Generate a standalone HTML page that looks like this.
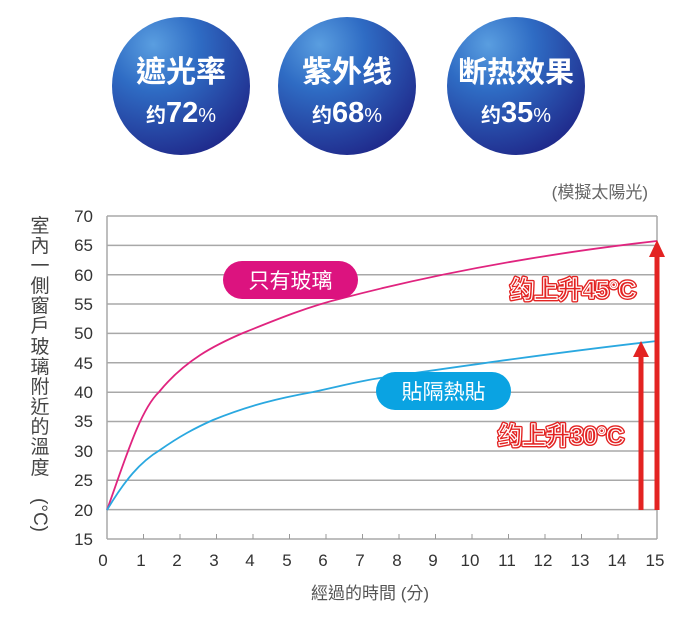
<!DOCTYPE html>
<html><head><meta charset="utf-8"><style>
body{margin:0;background:#fff;width:690px;height:639px;overflow:hidden}
svg text{font-family:"Liberation Sans","Noto Sans CJK TC",sans-serif}
</style></head><body>
<svg width="690" height="639" viewBox="0 0 690 639" xmlns="http://www.w3.org/2000/svg">
<defs>
<radialGradient id="cg" cx="0.3" cy="0.2" r="0.95">
<stop offset="0" stop-color="#5a9ee0"/><stop offset="0.35" stop-color="#2f6cc4"/><stop offset="1" stop-color="#1d1f82"/>
</radialGradient>
</defs>
<g text-anchor="middle" fill="#fff" font-weight="bold">
<circle cx="181" cy="86" r="69" fill="url(#cg)"/>
<circle cx="347" cy="86" r="69" fill="url(#cg)"/>
<circle cx="516" cy="86" r="69" fill="url(#cg)"/>
<text x="181" y="82" font-size="30">遮光率</text>
<text x="347" y="82" font-size="30">紫外线</text>
<text x="516" y="82" font-size="29">断热效果</text>
<text x="181" y="122"><tspan font-size="20">约</tspan><tspan font-size="29">72</tspan><tspan font-size="20" font-weight="normal">%</tspan></text>
<text x="347" y="122"><tspan font-size="20">约</tspan><tspan font-size="29">68</tspan><tspan font-size="20" font-weight="normal">%</tspan></text>
<text x="516" y="122"><tspan font-size="20">约</tspan><tspan font-size="29">35</tspan><tspan font-size="20" font-weight="normal">%</tspan></text>
</g>
<text x="648" y="198" font-size="17" fill="#666" text-anchor="end">(模擬太陽光)</text>
<g stroke="#a8a8a8" stroke-width="1.5">
<line x1="107" y1="216" x2="657" y2="216"/><line x1="107" y1="245.4" x2="657" y2="245.4"/>
<line x1="107" y1="274.7" x2="657" y2="274.7"/><line x1="107" y1="304" x2="657" y2="304"/>
<line x1="107" y1="333.4" x2="657" y2="333.4"/><line x1="107" y1="362.8" x2="657" y2="362.8"/>
<line x1="107" y1="392.2" x2="657" y2="392.2"/><line x1="107" y1="421.5" x2="657" y2="421.5"/>
<line x1="107" y1="451" x2="657" y2="451"/><line x1="107" y1="480.3" x2="657" y2="480.3"/>
<line x1="107" y1="509.6" x2="657" y2="509.6"/><line x1="107" y1="539" x2="657" y2="539"/>
<line x1="107" y1="216" x2="107" y2="539"/><line x1="657" y1="216" x2="657" y2="539"/>
</g>
<g stroke="#999" stroke-width="1">
<line x1="143.5" y1="539" x2="143.5" y2="534"/><line x1="180" y1="539" x2="180" y2="534"/><line x1="216.5" y1="539" x2="216.5" y2="534"/><line x1="253" y1="539" x2="253" y2="534"/><line x1="289.5" y1="539" x2="289.5" y2="534"/><line x1="326" y1="539" x2="326" y2="534"/><line x1="362.5" y1="539" x2="362.5" y2="534"/><line x1="399" y1="539" x2="399" y2="534"/><line x1="435.5" y1="539" x2="435.5" y2="534"/><line x1="472" y1="539" x2="472" y2="534"/><line x1="508.5" y1="539" x2="508.5" y2="534"/><line x1="545" y1="539" x2="545" y2="534"/><line x1="581.5" y1="539" x2="581.5" y2="534"/><line x1="618" y1="539" x2="618" y2="534"/>
</g>
<g font-size="17" fill="#333" text-anchor="end">
<text x="93" y="222">70</text><text x="93" y="251">65</text><text x="93" y="281">60</text><text x="93" y="310">55</text><text x="93" y="339">50</text><text x="93" y="369">45</text><text x="93" y="398">40</text><text x="93" y="427">35</text><text x="93" y="457">30</text><text x="93" y="486">25</text><text x="93" y="516">20</text><text x="93" y="545">15</text>
</g>
<g font-size="17" fill="#333" text-anchor="middle">
<text x="103" y="566">0</text><text x="141" y="566">1</text><text x="177" y="566">2</text><text x="214" y="566">3</text><text x="250" y="566">4</text><text x="287" y="566">5</text><text x="323" y="566">6</text><text x="360" y="566">7</text><text x="397" y="566">8</text><text x="433" y="566">9</text><text x="470" y="566">10</text><text x="507" y="566">11</text><text x="543" y="566">12</text><text x="580" y="566">13</text><text x="617" y="566">14</text><text x="655" y="566">15</text>
</g>
<text x="370" y="599" font-size="17" fill="#555" text-anchor="middle">經過的時間 (分)</text>
<g font-size="19" fill="#444" text-anchor="middle">
<text x="40" y="232">室</text><text x="40" y="252">內</text><text x="40" y="272">一</text><text x="40" y="292">側</text><text x="40" y="312">窗</text><text x="40" y="332">戶</text><text x="40" y="353">玻</text><text x="40" y="373">璃</text><text x="40" y="393">附</text><text x="40" y="413">近</text><text x="40" y="433">的</text><text x="40" y="453">溫</text><text x="40" y="474">度</text>
<text x="0" y="0" transform="translate(34,515) rotate(90)" text-anchor="middle">(°C)</text>
</g>
<path d="M107,510 C125,460 140,410 159,392 C185,360 215,345 243,333 C280,318 310,306 343,298 C450,270 560,252 657,241" fill="none" stroke="#e0247f" stroke-width="1.8"/>
<path d="M107,510 C125,480 140,462 160,450 C180,436 195,428 213,420 C250,405 280,398 313,392 C345,385 360,381 380,378 C470,365 560,352 657,341" fill="none" stroke="#2aa8e0" stroke-width="1.8"/>
<rect x="223" y="261" width="135" height="38" rx="19" fill="#dc137f"/>
<text x="290.5" y="288" font-size="21" fill="#fff" text-anchor="middle">只有玻璃</text>
<rect x="376" y="372" width="135" height="38" rx="19" fill="#0aa3e2"/>
<text x="443.5" y="399" font-size="21" fill="#fff" text-anchor="middle">貼隔熱貼</text>
<g font-size="24" font-weight="bold" text-anchor="middle" fill="#e32322" stroke="#e32322" stroke-width="4" stroke-linejoin="round">
<text x="573" y="298">约上升45°C</text><text x="561" y="444">约上升30°C</text>
</g>
<g font-size="24" font-weight="bold" text-anchor="middle" fill="#e32322" stroke="#fff" stroke-width="1.2">
<text x="573" y="298">约上升45°C</text><text x="561" y="444">约上升30°C</text>
</g>
<g fill="#e32322">
<rect x="654.5" y="256" width="5" height="254"/><polygon points="657,240 665,257 649,257"/>
<rect x="638.5" y="355" width="5" height="155"/><polygon points="641,341 649,357 633,357"/>
</g>
</svg>
</body></html>
